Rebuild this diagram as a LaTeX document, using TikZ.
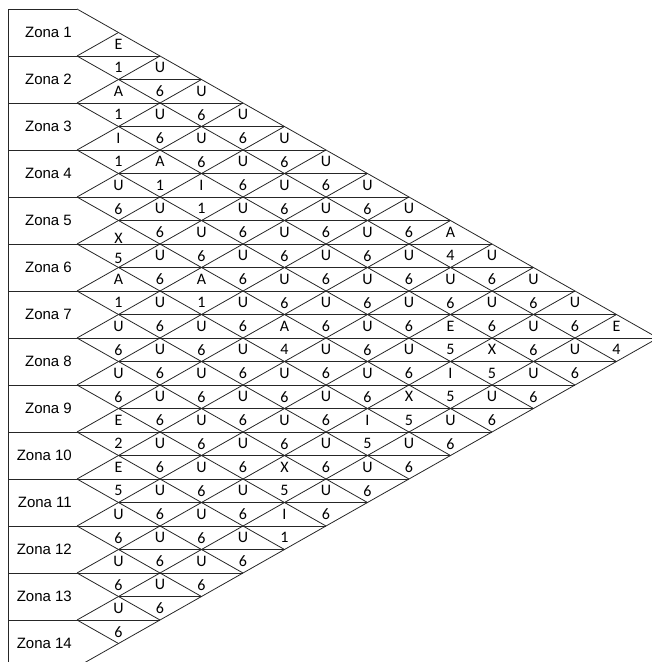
\documentclass[tikz,border=0pt]{standalone}
\usepackage{fontspec}
\setmainfont{Carlito}
\newfontfamily\zonefont{Liberation Sans}

\begin{document}
\begin{tikzpicture}[x=1pt, y=-1pt,
        grid/.style={draw=black!85, line width=0.8pt},
        cell/.style={inner sep=0pt, font=\fontsize{16}{16}\selectfont},
        zone/.style={anchor=east, inner sep=0pt, font=\zonefont\fontsize{15}{15}\selectfont},
        c-10-1/.style={yshift=-6pt}, c-11-1/.style={yshift=-3pt}]
    \useasboundingbox (0,0) rectangle (652,662);
    \clip (0,0) rectangle (652,662);
    \begin{scope}[shift={(77,9)}, x=41.5pt, y=-23.5pt]
        \draw[grid] (-1.66,0) -- (-1.66,28);
        \foreach \k in {0,...,14}
            \draw[grid] (-1.66,2*\k) -- ({min(2*\k,28-2*\k)},2*\k);
        \foreach \m in {3,5,...,25}
            \draw[grid] (1,\m) -- ({min(\m,28-\m)},\m);
        \foreach \k in {0,...,13}
            \draw[grid] (0,2*\k) -- (14-\k,14+\k);
        \foreach \k in {1,...,14}
            \draw[grid] (0,2*\k) -- (\k,\k);
        \foreach \z in {1,...,14}
            \node[zone] (zone-\z) at (-0.12,2*\z-1) {Zona \z};
        \foreach \hrow/\labels in {2/{E}, 3/{1,U}, 4/{A,6,U}, 5/{1,U,6,U},
                6/{I,6,U,6,U}, 7/{1,A,6,U,6,U}, 8/{U,1,I,6,U,6,U},
                9/{6,U,1,U,6,U,6,U}, 10/{X,6,U,6,U,6,U,6,A},
                11/{5,U,6,U,6,U,6,U,4,U}, 12/{A,6,A,6,U,6,U,6,U,6,U},
                13/{1,U,1,U,6,U,6,U,6,U,6,U}, 14/{U,6,U,6,A,6,U,6,E,6,U,6,E},
                15/{6,U,6,U,4,U,6,U,5,X,6,U,4}, 16/{U,6,U,6,U,6,U,6,I,5,U,6},
                17/{6,U,6,U,6,U,6,X,5,U,6}, 18/{E,6,U,6,U,6,I,5,U,6},
                19/{2,U,6,U,6,U,5,U,6}, 20/{E,6,U,6,X,6,U,6},
                21/{5,U,6,U,5,U,6}, 22/{U,6,U,6,I,6}, 23/{6,U,6,U,1},
                24/{U,6,U,6}, 25/{6,U,6}, 26/{U,6}, 27/{6}}
            \foreach \s [count=\ncol] in \labels
                \node[cell, c-\hrow-\ncol/.try] (c-\hrow-\ncol) at (\ncol,\hrow-0.5) {\s};
    \end{scope}
\end{tikzpicture}
\end{document}
